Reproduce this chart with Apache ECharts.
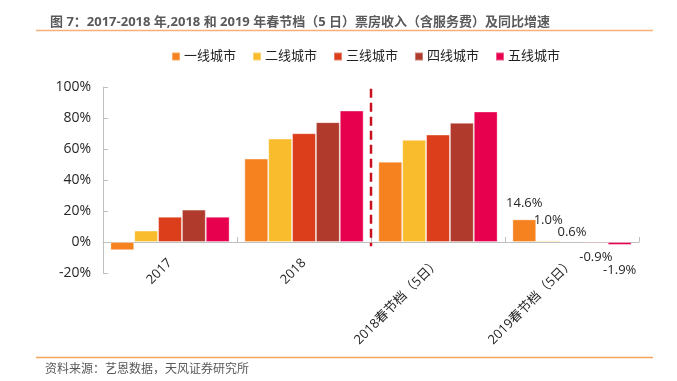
<!DOCTYPE html>
<html>
<head>
<meta charset="utf-8">
<script src="https://cdn.jsdelivr.net/npm/echarts@6/dist/echarts.min.js"></script>
<style>html,body{margin:0;padding:0;background:#fff;}#c{width:677px;height:381px;}</style>
</head>
<body>
<div id="c"></div>
<script>
const categories = ['2017', '2018', '2018春节档（5日）', '2019春节档（5日）'];
const seriesNames = ['一线城市', '二线城市', '三线城市', '四线城市', '五线城市'];
const tier1 = [-5.3, 53.8, 51.8, 14.6];
const tier2 = [7.4, 66.7, 65.9, 1.0];
const tier3 = [16.3, 70.2, 69.3, 0.6];
const tier4 = [20.9, 77.3, 76.9, -0.9];
const tier5 = [16.3, 84.8, 84.2, -1.9];
const yTicks = { min: -20, max: 100, interval: 20 };
const labelledIndex = 3;
const dividerAt = 2; // boundary between 2018 and 2018春节档 (category units)
const dividerRange = [98.9, -2.8];

const colors = ['#F5821F', '#F9BC2C', '#DC3D1A', '#B03A2B', '#E6004D'];
const labelDist = [10, 14, 2, 7, 19];
const FONT = '"Open Sans","Noto Sans CJK SC",sans-serif';
const allValues = [tier1, tier2, tier3, tier4, tier5];

const barSeries = allValues.map((vals, i) => ({
  name: seriesNames[i],
  type: 'bar',
  barGap: '0%',
  barCategoryGap: '11%',
  itemStyle: { color: colors[i], borderColor: 'rgba(255,255,255,0.35)', borderWidth: 1 },
  data: vals.map((v, j) => j === labelledIndex ? {
    value: v,
    label: {
      show: true,
      position: v >= 0 ? 'top' : 'bottom',
      distance: labelDist[i],
      formatter: p => p.value.toFixed(1) + '%',
      fontSize: 13, color: '#262626', fontFamily: FONT
    }
  } : v)
}));

const chart = echarts.init(document.getElementById('c'), null, { renderer: 'canvas' });
chart.setOption({
  animation: false,
  textStyle: { fontFamily: FONT },
  title: {
    text: '图 7：2017-2018 年,2018 和 2019 年春节档（5 日）票房收入（含服务费）及同比增速',
    left: 45, top: 11,
    textStyle: { fontSize: 13, fontWeight: 'bold', color: '#5a5a5a', fontFamily: FONT }
  },
  legend: {
    data: seriesNames,
    left: 166, top: 45,
    icon: 'rect', itemWidth: 8, itemHeight: 8, itemGap: 16,
    textStyle: { fontSize: 13, color: '#222', fontFamily: FONT, padding: [0, 0, 0, -1] }
  },
  grid: { left: 103, right: 38, top: 87, bottom: 108, containLabel: false },
  xAxis: [{
    type: 'category',
    data: categories,
    axisLine: { onZero: true, lineStyle: { color: '#bfbfbf', width: 1 } },
    axisTick: { show: true, inside: true, length: 5, lineStyle: { color: '#bfbfbf' } },
    axisLabel: { rotate: 45, fontSize: 13, color: '#262626', margin: -12, fontFamily: FONT, interval: 0 }
  }, {
    type: 'value', min: 0, max: categories.length, show: false
  }],
  yAxis: {
    type: 'value',
    min: yTicks.min, max: yTicks.max, interval: yTicks.interval,
    axisLine: { show: true, lineStyle: { color: '#bfbfbf' } },
    axisTick: { show: true, inside: true, length: 5, lineStyle: { color: '#bfbfbf' } },
    splitLine: { show: false },
    axisLabel: { formatter: '{value}%', fontSize: 14, color: '#262626', margin: 12, fontFamily: FONT }
  },
  series: barSeries.concat([{
    name: 'divider',
    type: 'line',
    xAxisIndex: 1,
    symbol: 'none',
    silent: true,
    lineStyle: { color: '#C8101E', width: 2.5, type: [9, 5] },
    data: [[dividerAt, dividerRange[0]], [dividerAt, dividerRange[1]]]
  }]),
  graphic: [
    { type: 'line', shape: { x1: 36, y1: 30.5, x2: 653, y2: 30.5 }, style: { stroke: '#F7B07A', lineWidth: 1.5 } },
    { type: 'line', shape: { x1: 36, y1: 357.5, x2: 653, y2: 357.5 }, style: { stroke: '#F7A35C', lineWidth: 1.5 } },
    { type: 'text', left: 45, top: 364, style: { text: '资料来源：艺恩数据，天风证券研究所', fontSize: 12, fill: '#595959', fontFamily: FONT } }
  ]
});
</script>
</body>
</html>
